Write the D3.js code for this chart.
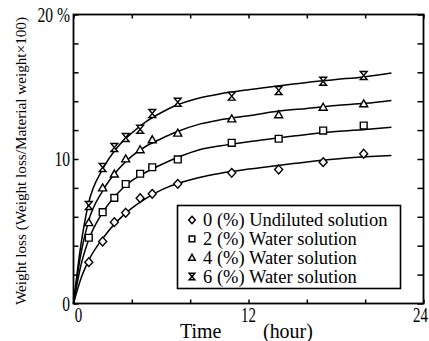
<!DOCTYPE html>
<html>
<head>
<meta charset="utf-8">
<script src="https://cdn.jsdelivr.net/npm/d3@7"></script>
<style>
  body { margin: 0; background: #fff; }
  svg { display: block; }
  text { font-family: "Liberation Serif", "DejaVu Serif", serif; fill: #000; }
</style>
</head>
<body>
<svg id="chart" width="429" height="341"></svg>
<script>
// measured points (hours, weight loss %)
const times = [1.05, 2.0, 2.8, 3.58, 4.57, 5.4, 7.15, 10.85, 14.07, 17.12, 19.9];
const undiluted = [2.86, 4.29, 5.63, 6.28, 7.29, 7.59, 8.28, 9.04, 9.27, 9.78, 10.36];
const water2 = [4.55, 6.32, 7.31, 8.27, 8.98, 9.43, 9.97, 11.12, 11.4, 11.97, 12.32];
const water4 = [5.6, 8.0, 8.96, 10.01, 10.64, 11.33, 11.79, 12.78, 13.06, 13.58, 13.82];
const water6 = [6.78, 9.41, 10.8, 11.49, 12.06, 13.15, 13.93, 14.35, 14.74, 15.38, 15.78];

// fitted curves
const fitTimes = [0, 0.5, 1, 2, 3, 4, 5, 6, 7, 8.7, 10, 12, 14, 16, 18, 20, 21.8];
const fit0 = [0, 1.7, 2.9, 4.5, 5.7, 6.6, 7.3, 7.85, 8.25, 8.74, 9.0, 9.3, 9.55, 9.8, 10.0, 10.15, 10.25];
const fit2 = [0, 2.6, 4.3, 6.3, 7.6, 8.5, 9.1, 9.6, 10.05, 10.66, 10.9, 11.2, 11.45, 11.7, 11.9, 12.05, 12.2];
const fit4 = [0, 3.4, 5.6, 7.8, 9.2, 10.2, 10.9, 11.4, 11.85, 12.43, 12.7, 13.0, 13.3, 13.5, 13.7, 13.85, 14.05];
const fit6 = [0, 4.0, 6.8, 9.3, 10.8, 11.8, 12.6, 13.2, 13.7, 14.24, 14.5, 14.8, 15.05, 15.3, 15.5, 15.7, 15.95];

const legendLabels = [
  "0 (%) Undiluted solution",
  "2 (%) Water solution",
  "4 (%) Water solution",
  "6 (%) Water solution"
];

const xTicks = [0, 4, 8, 12, 16, 20, 24];
const xLabelValues = [0, 12, 24];
const yTicks = [0, 2, 4, 6, 8, 10, 12, 14, 16, 18, 20];
const yLabelValues = [0, 10, 20];
const yLabelTexts = ["0", "10", "20 %"];

const svg = d3.select("#chart");
const box = { left: 73.5, right: 423.5, top: 14.5, bottom: 303.5 };

const x = d3.scaleLinear().domain([0, 24]).range([box.left, box.right]);
const y = d3.scaleLinear().domain([0, 20]).range([box.bottom, box.top]);

// marker shapes, r ~ half size
const shapes = [
  (r) => `M0,${-r * 1.1}L${r},0L0,${r * 1.1}L${-r},0Z`,
  (r) => `M${-r * 0.85},${-r * 0.85}H${r * 0.85}V${r * 0.85}H${-r * 0.85}Z`,
  (r) => `M0,${-r}L${r},${r * 0.75}H${-r}Z`,
  (r) => `M${-r * 0.85},${-r}H${r * 0.85}L${-r * 0.85},${r}H${r * 0.85}Z`
];

const series = [undiluted, water2, water4, water6];
const fits = [fit0, fit2, fit4, fit6];

const line = d3
  .line()
  .x((d) => x(d[0]))
  .y((d) => y(d[1]))
  .curve(d3.curveMonotoneX);

const g = svg.append("g");

g.selectAll("path.fit")
  .data(fits)
  .enter()
  .append("path")
  .attr("class", "fit")
  .attr("d", (f) => line(fitTimes.map((t, i) => [t, f[i]])))
  .attr("fill", "none")
  .attr("stroke", "#000")
  .attr("stroke-width", 1.5);

series.forEach((vals, si) => {
  g.append("g")
    .selectAll("path")
    .data(vals)
    .enter()
    .append("path")
    .attr("transform", (v, i) => "translate(" + x(times[i]) + "," + y(v) + ")")
    .attr("d", shapes[si](4))
    .attr("fill", "#fff")
    .attr("stroke", "#000")
    .attr("stroke-width", 1.4);
});

// frame and inward ticks
svg.append("rect")
  .attr("x", box.left).attr("y", box.top)
  .attr("width", box.right - box.left).attr("height", box.bottom - box.top)
  .attr("fill", "none").attr("stroke", "#000").attr("stroke-width", 1.8);

const axes = [
  [d3.axisBottom(x).tickValues(xTicks).tickSize(-4), "translate(0," + box.bottom + ")"],
  [d3.axisTop(x).tickValues(xTicks).tickSize(-4), "translate(0," + box.top + ")"],
  [d3.axisLeft(y).tickValues(yTicks).tickSize(-5), "translate(" + box.left + ",0)"],
  [d3.axisRight(y).tickValues(yTicks).tickSize(-6), "translate(" + box.right + ",0)"]
];
axes.forEach(([ax, tr]) => {
  const a = svg.append("g").attr("transform", tr).call(ax.tickFormat("").tickSizeOuter(0));
  a.select(".domain").remove();
  a.selectAll("line").attr("stroke", "#000").attr("stroke-width", 1.5);
});

// condensed serif labels
function label(txt, px, py, size, anchor, sx) {
  svg.append("text")
    .attr("transform", "translate(" + px + "," + py + ") scale(" + sx + ",1)")
    .attr("font-size", size)
    .attr("text-anchor", anchor)
    .text(txt);
}

yLabelValues.forEach((v, i) => label(yLabelTexts[i], 70, y(v) + 7, 20, "end", 0.78));
xLabelValues.forEach((v) => {
  if (v === 24) label(String(v), 428, 322, 20, "end", 0.75);
  else label(String(v), x(v) + (v === 0 ? 5 : 0), 322, 20, "middle", 0.75);
});

label("Time", 180, 338, 21, "start", 0.95);
label("(hour)", 263, 338, 21, "start", 0.95);

svg.append("text")
  .attr("transform", "translate(26,161) rotate(-90)")
  .attr("font-size", 15.5)
  .attr("text-anchor", "middle")
  .attr("textLength", 288)
  .attr("lengthAdjust", "spacingAndGlyphs")
  .text("Weight loss (Weight loss/Material weight\u00d7100)");

// legend
const leg = svg.append("g");
leg.append("rect")
  .attr("x", 177.5).attr("y", 205.5)
  .attr("width", 223).attr("height", 83)
  .attr("fill", "#fff").attr("stroke", "#000").attr("stroke-width", 1.6);

const legendRows = d3.range(legendLabels.length);
const ly = d3.scalePoint().domain(legendRows).range([220, 276.5]);

leg.selectAll("path")
  .data(legendRows)
  .enter()
  .append("path")
  .attr("transform", (d) => "translate(192," + ly(d) + ")")
  .attr("d", (d) => shapes[d](3.3))
  .attr("fill", "#fff")
  .attr("stroke", "#000")
  .attr("stroke-width", 1.5);

leg.selectAll("text")
  .data(legendRows)
  .enter()
  .append("text")
  .attr("x", 203)
  .attr("y", (d) => ly(d) + 6)
  .attr("font-size", 18.5)
  .text((d) => legendLabels[d]);
</script>
</body>
</html>
